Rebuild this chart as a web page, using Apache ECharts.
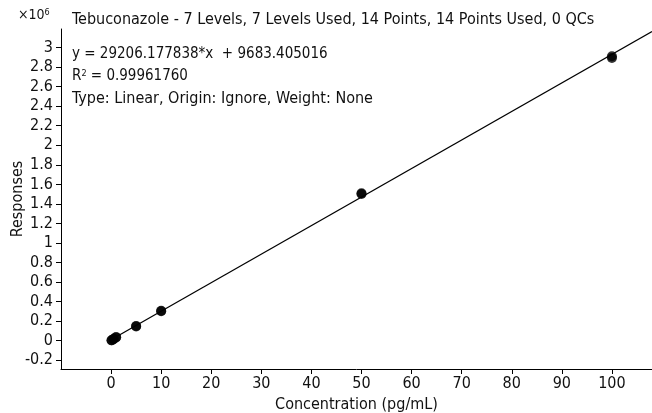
<!DOCTYPE html>
<html><head><meta charset="utf-8">
<script src="https://cdn.jsdelivr.net/npm/echarts@6/dist/echarts.min.js"></script>
<style>html,body{margin:0;padding:0;background:#fff}#c{width:652px;height:413px}</style>
</head><body><div id="c"></div>
<script>
const FONT = '"Liberation Sans Narrow", "DejaVu Sans Condensed", sans-serif';
const titleText = 'Tebuconazole - 7 Levels, 7 Levels Used, 14 Points, 14 Points Used, 0 QCs';
const equationText = 'y = 29206.177838*x  + 9683.405016';
const r2Text = '0.99961760';
const typeText = 'Type: Linear, Origin: Ignore, Weight: None';
const concentrations = [0.1, 0.1, 0.5, 0.5, 1, 1, 5, 5, 10, 10, 50, 50, 100, 100];
const responses = [0.003, 0.004, 0.016, 0.017, 0.034, 0.036, 0.146, 0.150, 0.302, 0.306, 1.502, 1.508, 2.893, 2.912];
const fitX = [0, 108];
const fitY = [0.0097, 3.1640];
const xTicks = [0, 10, 20, 30, 40, 50, 60, 70, 80, 90, 100];
const yTicks = [-0.2, 0, 0.2, 0.4, 0.6, 0.8, 1, 1.2, 1.4, 1.6, 1.8, 2, 2.2, 2.4, 2.6, 2.8, 3];

const chart = echarts.init(document.getElementById('c'), null, {renderer: 'canvas'});
const axisCommon = {
  axisLine: {show: true, onZero: false, lineStyle: {color: '#000', width: 1}},
  axisTick: {show: true, length: 5, lineStyle: {color: '#000'}},
  axisLabel: {color: '#111', fontFamily: FONT, fontSize: 16},
  splitLine: {show: false},
  nameTextStyle: {color: '#111', fontFamily: FONT, fontSize: 16}
};
chart.setOption({
  animation: false,
  backgroundColor: '#fff',
  grid: {left: 61, right: 0, top: 29, bottom: 44, containLabel: false, outerBoundsMode: 'none'},
  xAxis: Object.assign({}, axisCommon, {
    type: 'value', min: -10, max: 108,
    name: 'Concentration (pg/mL)', nameLocation: 'middle', nameGap: 28, nameMoveOverlap: false,
    axisTick: Object.assign({}, axisCommon.axisTick, {customValues: xTicks}),
    axisLabel: Object.assign({}, axisCommon.axisLabel, {customValues: xTicks, margin: 7})
  }),
  yAxis: Object.assign({}, axisCommon, {
    type: 'value', min: -0.29, max: 3.19,
    name: 'Responses', nameLocation: 'middle', nameGap: 35, nameRotate: 90, nameMoveOverlap: false,
    axisTick: Object.assign({}, axisCommon.axisTick, {customValues: yTicks}),
    axisLabel: Object.assign({}, axisCommon.axisLabel, {customValues: yTicks, margin: 8})
  }),
  graphic: [
    {type: 'text', left: 72, top: 12, style: {text: titleText, font: '16px ' + FONT, fill: '#111'}},
    {type: 'text', left: 72, top: 47, style: {text: equationText, font: '15px ' + FONT, fill: '#111'}},
    {type: 'text', left: 72, top: 69, style: {
      text: '{a|R}{s|2}{a| = ' + r2Text + '}',
      rich: {a: {font: '15px ' + FONT, fill: '#111', verticalAlign: 'bottom'}, s: {font: '9px ' + FONT, fill: '#111', verticalAlign: 'top'}}
    }},
    {type: 'text', left: 72, top: 91, style: {text: typeText, font: '16px ' + FONT, fill: '#111'}},
    {type: 'text', left: 18, top: 8, style: {
      text: '{a|×10}{s|6}',
      rich: {a: {font: '14px ' + FONT, fill: '#111'}, s: {font: '9px ' + FONT, fill: '#111', verticalAlign: 'top'}}
    }}
  ],
  series: [
    {type: 'line', data: fitX.map((x, i) => [x, fitY[i]]), symbol: 'none',
     lineStyle: {color: '#000', width: 1.2}, z: 2},
    {type: 'scatter', data: concentrations.map((x, i) => [x, responses[i]]),
     symbol: 'circle', symbolSize: 10, itemStyle: {color: '#000'}, z: 3}
  ]
});
</script></body></html>
